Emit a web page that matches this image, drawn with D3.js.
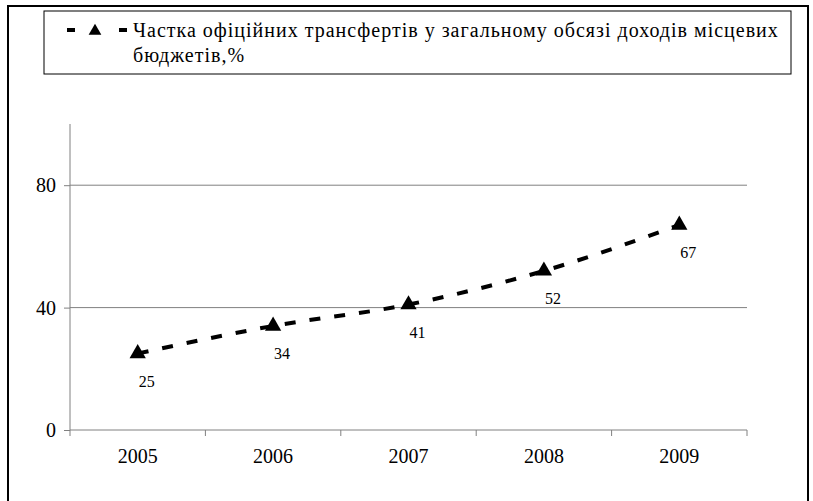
<!DOCTYPE html>
<html>
<head>
<meta charset="utf-8">
<script src="https://cdn.jsdelivr.net/npm/d3@7"></script>
<style>
  body { margin: 0; background: #fff; }
  text { font-family: "Liberation Serif", "Times New Roman", serif; fill: #000; }
</style>
</head>
<body>
<div id="chart"></div>
<script>
var years = ["2005", "2006", "2007", "2008", "2009"];
var shares = [25, 34, 41, 52, 67];
var yTicks = [0, 40, 80];
var legendLines = [
  "Частка офіційних трансфертів у загальному обсязі доходів місцевих",
  "бюджетів,%"
];

var svgWidth = 813;
var svgHeight = 501;

var margin = { top: 124, right: 66, bottom: 71, left: 70 };
var width = svgWidth - margin.left - margin.right;
var height = svgHeight - margin.top - margin.bottom;

var svg = d3.select("#chart")
  .append("svg")
  .attr("width", svgWidth)
  .attr("height", svgHeight);

// outer frame
svg.append("rect")
  .attr("x", 8).attr("y", 6)
  .attr("width", 800).attr("height", 496)
  .attr("fill", "none")
  .attr("stroke", "#000")
  .attr("stroke-width", 2);

var chartGroup = svg.append("g")
  .attr("transform", `translate(${margin.left}, ${margin.top})`);

var xScale = d3.scaleBand()
  .domain(years)
  .range([0, width]);

var yScale = d3.scaleLinear()
  .domain([0, 100])
  .range([height, 0]);

// gridlines
chartGroup.selectAll(".grid")
  .data(yTicks.filter(d => d > 0))
  .enter()
  .append("line")
  .attr("x1", 0).attr("x2", width)
  .attr("y1", d => yScale(d)).attr("y2", d => yScale(d))
  .attr("stroke", "#808080")
  .attr("stroke-width", 1);

// y axis
var leftAxis = d3.axisLeft(yScale).tickValues(yTicks).tickSize(6).tickPadding(8);
var yAxisG = chartGroup.append("g").call(leftAxis);
yAxisG.select(".domain").attr("stroke", "#808080").attr("d", `M0,0V${height}`);
yAxisG.selectAll(".tick line").attr("stroke", "#808080");
yAxisG.selectAll("text").attr("font-size", "20px").attr("fill", "#000");

// x axis: ticks at category boundaries
var bottomAxis = d3.axisBottom(xScale).tickSize(0).tickPadding(19);
var xAxisG = chartGroup.append("g")
  .attr("transform", `translate(0, ${height})`)
  .call(bottomAxis);
xAxisG.select(".domain").attr("stroke", "#808080").attr("d", `M0,0H${width}`);
xAxisG.selectAll("text").attr("font-size", "20px").attr("fill", "#000");
xAxisG.selectAll(".bound")
  .data(d3.range(years.length + 1))
  .enter()
  .append("line")
  .attr("x1", i => i * xScale.step()).attr("x2", i => i * xScale.step())
  .attr("y1", 0).attr("y2", 6)
  .attr("stroke", "#808080");

var cx = d => xScale(d) + xScale.bandwidth() / 2;

// dashed line
var line = d3.line()
  .x((d, i) => cx(years[i]))
  .y(d => yScale(d))
  .curve(d3.curveMonotoneX);

chartGroup.append("path")
  .datum(shares)
  .attr("d", line)
  .attr("fill", "none")
  .attr("stroke", "#000")
  .attr("stroke-width", 4)
  .attr("stroke-dasharray", "11,14");

var tri = d3.symbol().type(d3.symbolTriangle).size(115);

chartGroup.selectAll(".marker")
  .data(shares)
  .enter()
  .append("path")
  .attr("d", tri)
  .attr("transform", (d, i) => `translate(${cx(years[i])}, ${yScale(d)})`)
  .attr("fill", "#000");

chartGroup.selectAll(".dlabel")
  .data(shares)
  .enter()
  .append("text")
  .attr("x", (d, i) => cx(years[i]) + 9)
  .attr("y", d => yScale(d) + 33)
  .attr("text-anchor", "middle")
  .attr("font-size", "16px")
  .text(d => d);

// legend
var legend = svg.append("g");
legend.append("rect")
  .attr("x", 44).attr("y", 11)
  .attr("width", 747).attr("height", 63)
  .attr("fill", "#fff")
  .attr("stroke", "#000")
  .attr("stroke-width", 1);

legend.selectAll(".ldash")
  .data([67, 119])
  .enter()
  .append("line")
  .attr("x1", d => d).attr("x2", d => d + 8)
  .attr("y1", 30).attr("y2", 30)
  .attr("stroke", "#000")
  .attr("stroke-width", 4);

legend.append("path")
  .attr("d", d3.symbol().type(d3.symbolTriangle).size(70))
  .attr("transform", "translate(95, 31)")
  .attr("fill", "#000");

legend.selectAll(".ltext")
  .data(legendLines)
  .enter()
  .append("text")
  .attr("x", 133)
  .attr("y", (d, i) => 37 + i * 25)
  .attr("font-size", "20px")
  .attr("letter-spacing", "1px")
  .text(d => d);
</script>
</body>
</html>
